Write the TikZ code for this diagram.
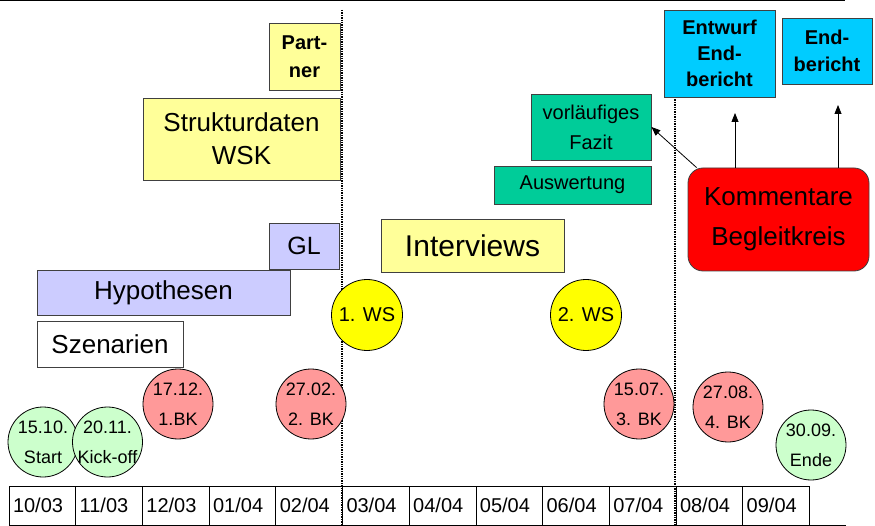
\documentclass[tikz,border=0pt]{standalone}
\usepackage{fontspec}
\setmainfont{Liberation Sans}
\usetikzlibrary{arrows.meta}
\definecolor{msgreen}{HTML}{CCFFCC}
\definecolor{msred}{HTML}{FF9999}
\definecolor{wsyellow}{HTML}{FFFF00}
\definecolor{bxyellow}{HTML}{FFFF99}
\definecolor{bxblue}{HTML}{CCCCFF}
\definecolor{bxgreen}{HTML}{00CC99}
\definecolor{bxcyan}{HTML}{00CCFF}
\definecolor{bxred}{HTML}{FF0000}
\tikzset{
  bx/.style={draw=black!75, line width=0.8pt, inner sep=0pt, align=center},
  ms/.style={circle, draw, line width=0.8pt, minimum size=70pt, inner sep=0pt,
    label={[align=center,font=\fontsize{18}{30}\selectfont]center:#1}},
  mon/.style={draw, line width=0.8pt, anchor=west, minimum height=39pt, text width=58.7pt,
    inner sep=4pt, outer sep=0pt, align=left, font=\fontsize{20}{24}\selectfont},
  arr/.style={-{Triangle[length=9pt,width=7pt]}, line width=0.8pt}
}
\begin{document}
\begin{tikzpicture}[x=1pt,y=-1pt]
\useasboundingbox (0,0) rectangle (875,526);
\draw[line width=1pt](0,1)--(845,1);
\draw[densely dotted,line width=1.4pt](342,10)--(342,526);
\draw[densely dotted,line width=1.4pt](675,97)--(675,526);
% boxes
\node[bx,fill=bxyellow,minimum width=71pt,minimum height=67pt,font=\bfseries\fontsize{20}{28}\selectfont](partner)at(304.5,57){Part-\\ner};
\node[bx,fill=bxyellow,minimum width=197pt,minimum height=82pt,font=\fontsize{26}{33}\selectfont](struk)at(241.5,139){Strukturdaten\\WSK};
\node[bx,fill=bxblue,minimum width=70pt,minimum height=46pt,font=\fontsize{25}{30}\selectfont](gl)at(304,246){GL};
\node[bx,fill=bxblue,minimum width=253pt,minimum height=45pt,font=\fontsize{26}{30}\selectfont](hyp)at(163.5,292.5){Hypothesen};
\node[bx,fill=white,minimum width=146pt,minimum height=46pt,font=\fontsize{26}{30}\selectfont](szen)at(110,344){Szenarien};
\node[bx,fill=bxyellow,minimum width=183pt,minimum height=53pt,font=\fontsize{30}{36}\selectfont](inter)at(472.5,245.5){Interviews};
\node[bx,fill=bxgreen,minimum width=157pt,minimum height=38pt,font=\fontsize{20}{24}\selectfont](ausw)at(572.5,185){Auswertung};
\node[bx,fill=bxgreen,minimum width=120pt,minimum height=66pt,font=\fontsize{20}{30}\selectfont](fazit)at(591,127){vorläufiges\\Fazit};
\node[bx,fill=bxcyan,minimum width=111pt,minimum height=87pt,font=\bfseries\fontsize{20}{26}\selectfont](entw)at(719.5,53.5){Entwurf\\End-\\bericht};
\node[bx,fill=bxcyan,minimum width=90pt,minimum height=66pt,font=\bfseries\fontsize{20}{27}\selectfont](endb)at(827,51){End-\\bericht};
\node[bx,fill=bxred,rounded corners=15pt,minimum width=181pt,minimum height=103pt,font=\fontsize{26}{40}\selectfont](kb)at(778.5,219.5){Kommentare\\Begleitkreis};
% milestones
\node[ms={15.10.\\Start},fill=msgreen](start)at(43,442){};
\node[ms={20.11.\\Kick-off},fill=msgreen](kick)at(107.5,442){};
\node[ms={17.12.\\1.BK},fill=msred](bk1)at(178,404){};
\node[ms={27.02.\\2. BK},fill=msred](bk2)at(311,404){};
\node[ms={15.07.\\3. BK},fill=msred](bk3)at(639,404){};
\node[ms={27.08.\\4. BK},fill=msred](bk4)at(728,407){};
\node[ms={30.09.\\Ende},fill=msgreen](ende)at(811,445){};
\node[circle,draw,line width=0.8pt,fill=wsyellow,minimum size=71pt,inner sep=0pt,font=\fontsize{20}{24}\selectfont](ws1)at(367,315){1. WS};
\node[circle,draw,line width=0.8pt,fill=wsyellow,minimum size=71pt,inner sep=0pt,font=\fontsize{20}{24}\selectfont](ws2)at(586,315){2. WS};
% months
\node[mon](m1)at(9,505.5){10/03};
\node[mon](m2)at(m1.east){11/03};
\node[mon](m3)at(m2.east){12/03};
\node[mon](m4)at(m3.east){01/04};
\node[mon](m5)at(m4.east){02/04};
\node[mon](m6)at(m5.east){03/04};
\node[mon](m7)at(m6.east){04/04};
\node[mon](m8)at(m7.east){05/04};
\node[mon](m9)at(m8.east){06/04};
\node[mon](m10)at(m9.east){07/04};
\node[mon](m11)at(m10.east){08/04};
\node[mon](m12)at(m11.east){09/04};
\draw[line width=0.8pt](m1.south west)--(846,525);
% arrows
\coordinate(e1)at(735,113);
\coordinate(e2)at(838,105);
\draw[arr]([xshift=9pt]kb.north west)--(fazit.east);
\draw[arr](kb.north-|e1)--(e1);
\draw[arr](kb.north-|e2)--(e2);
\end{tikzpicture}
\end{document}
